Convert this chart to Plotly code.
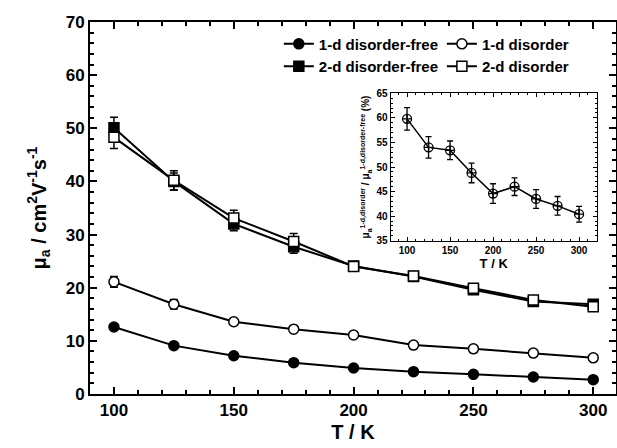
import plotly.graph_objects as go

# ---- data ----
T = [100, 125, 150, 175, 200, 225, 250, 275, 300]

d1_free = [12.6, 9.1, 7.2, 5.9, 4.9, 4.2, 3.7, 3.2, 2.7]
d1_free_err = [0.4, 0.3, 0.3, 0.3, 0.3, 0.3, 0.3, 0.3, 0.3]
d1_dis = [21.1, 16.9, 13.6, 12.2, 11.1, 9.2, 8.5, 7.7, 6.8]
d1_dis_err = [1.0, 0.9, 0.6, 0.6, 0.6, 0.6, 0.6, 0.6, 0.6]
d2_free = [50.1, 40.0, 32.0, 27.7, 24.1, 22.1, 19.6, 17.4, 16.9]
d2_free_err = [2.0, 1.6, 1.3, 1.2, 0.8, 0.7, 0.7, 0.6, 0.6]
d2_dis = [48.3, 40.2, 33.1, 28.7, 24.0, 22.2, 19.9, 17.7, 16.4]
d2_dis_err = [2.1, 1.8, 1.5, 1.5, 0.9, 0.8, 0.8, 0.7, 0.7]

ratio = [59.8, 54.0, 53.4, 48.8, 44.6, 46.0, 43.5, 42.1, 40.4]
ratio_err = [2.3, 2.2, 1.9, 2.0, 2.0, 1.8, 1.9, 1.9, 1.6]

FONT = "Liberation Sans, Arial, sans-serif"

fig = go.Figure()

def add(y, err, name, symbol, fill, legend):
    fig.add_trace(go.Scatter(
        x=T, y=y, name=name, mode="lines+markers", legend=legend,
        line=dict(color="black", width=2),
        marker=dict(symbol=symbol, size=10, color=fill,
                    line=dict(color="black", width=1.5)),
        error_y=dict(type="data", array=err, visible=True,
                     color="black", thickness=1.5, width=4),
    ))

add(d1_free, d1_free_err, "1-d disorder-free", "circle", "black", "legend")
add(d2_free, d2_free_err, "2-d disorder-free", "square", "black", "legend")
add(d1_dis, d1_dis_err, "1-d disorder", "circle", "white", "legend2")
add(d2_dis, d2_dis_err, "2-d disorder", "square", "white", "legend2")

fig.add_trace(go.Scatter(
    x=T, y=ratio, mode="lines+markers", xaxis="x2", yaxis="y2",
    showlegend=False,
    line=dict(color="black", width=1.5),
    marker=dict(symbol="circle-cross-open", size=9, color="black",
                line=dict(color="black", width=1.3)),
    error_y=dict(type="data", array=ratio_err, visible=True,
                 color="black", thickness=1.3, width=3),
))

axis_common = dict(
    showline=True, linecolor="black", mirror="ticks", ticks="inside",
    tickcolor="black", showgrid=False, zeroline=False, automargin=False,
)

fig.update_layout(
    width=617, height=448,
    margin=dict(l=90, r=1, t=22, b=54),
    paper_bgcolor="white", plot_bgcolor="white",
    font=dict(family=FONT, color="black"),
    xaxis=dict(
        **axis_common, range=[90, 309.5], linewidth=2, tickwidth=2, ticklen=7,
        tickvals=[100, 150, 200, 250, 300],
        tickfont=dict(size=17, weight="bold"),
        minor=dict(dtick=10, tick0=100, ticklen=4, tickwidth=1.5, ticks="inside", tickcolor="black"),
        title=dict(text="T / K", font=dict(size=20, weight="bold"), standoff=6),
    ),
    yaxis=dict(
        **axis_common, range=[0, 70], linewidth=2, tickwidth=2, ticklen=7,
        dtick=10, tickfont=dict(size=17, weight="bold"),
        minor=dict(dtick=2, ticklen=4, tickwidth=1.5, ticks="inside", tickcolor="black"),
        title=dict(text="μ<sub>a</sub> / cm<sup>2</sup>V<sup>-1</sup>s<sup>-1</sup>",
                   font=dict(size=20, weight="bold"), standoff=14),
    ),
    xaxis2=dict(
        **axis_common, domain=[0.5717, 0.9633], anchor="y2", range=[81, 320.5],
        linewidth=1.3, tickwidth=1.3, ticklen=4,
        tickvals=[100, 150, 200, 250, 300],
        tickfont=dict(size=10, weight="bold"),
        minor=dict(dtick=10, tick0=100, ticklen=2, tickwidth=1, ticks="inside", tickcolor="black"),
        title=dict(text="T / K", font=dict(size=13, weight="bold"), standoff=3),
    ),
    yaxis2=dict(
        **axis_common, domain=[0.412, 0.8083], anchor="x2", range=[35, 65],
        linewidth=1.3, tickwidth=1.3, ticklen=4, dtick=5,
        tickfont=dict(size=10, weight="bold"),
        minor=dict(dtick=1, ticklen=2, tickwidth=1, ticks="inside", tickcolor="black"),
        title=dict(text="μ<sub>a</sub><sup>1-d,disorder</sup> / μ<sub>a</sub><sup>1-d,disorder-free</sup> (%)",
                   font=dict(size=10, weight="bold"), standoff=4),
    ),
    legend=dict(x=0.359, y=0.985, xanchor="left", yanchor="top",
                bgcolor="rgba(0,0,0,0)", font=dict(size=15, weight="bold"),
                tracegroupgap=0, itemwidth=30),
    legend2=dict(x=0.669, y=0.985, xanchor="left", yanchor="top",
                 bgcolor="rgba(0,0,0,0)", font=dict(size=15, weight="bold"),
                 tracegroupgap=0, itemwidth=30),
)

fig.write_html("out.html")
